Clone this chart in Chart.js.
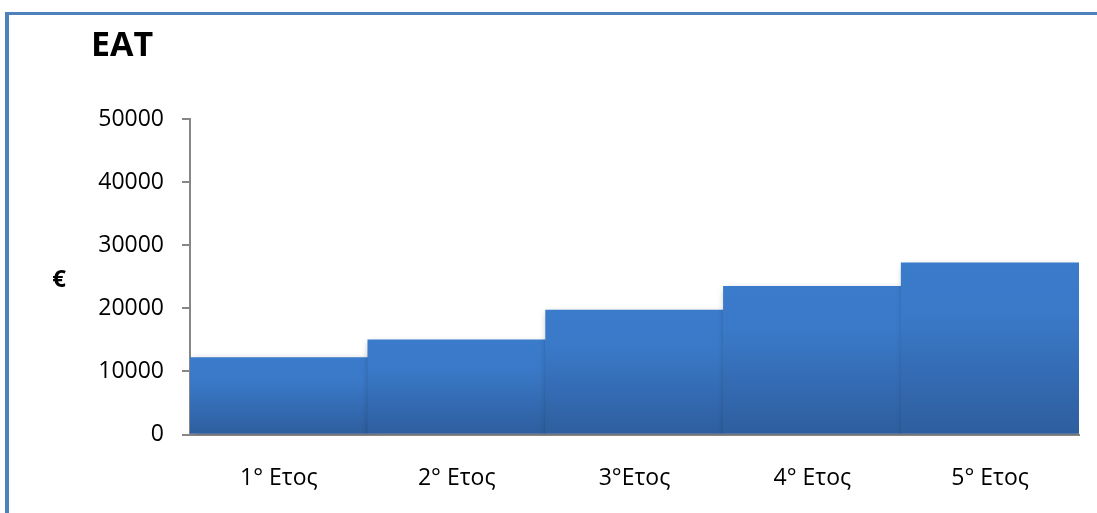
<!DOCTYPE html>
<html>
<head>
<meta charset="utf-8">
<script src="https://cdn.jsdelivr.net/npm/chart.js@4/dist/chart.umd.min.js"></script>
<style>
  html, body { margin: 0; padding: 0; background: #ffffff; overflow: hidden; }
  #marco {
    position: absolute; left: 5px; top: 12px; width: 1200px; height: 600px;
    border-top: 3px solid #4f81bd; border-left: 4px solid #4f81bd;
  }
  #contenedor { position: absolute; left: 0; top: 0; width: 1097px; height: 513px; }
</style>
</head>
<body>
<div id="marco"></div>
<div id="contenedor"><canvas id="plot1" width="1097" height="513"></canvas></div>
<script>
// Datos del gráfico
let etiquetas = ['1° Ετος', '2° Ετος', '3°Ετος', '4° Ετος', '5° Ετος'];
let valores = [12200, 15000, 19700, 23500, 27200];
let ticksY = [0, 10000, 20000, 30000, 40000, 50000];
let titulo = 'EAT';
let unidad = '€';

let fuente = "'Open Sans', 'DejaVu Sans', sans-serif";

// Degradado de cada barra, desde su tope hasta el cero
let colorBarra = (context) => {
  let chart = context.chart;
  if (!chart.chartArea || context.parsed == null) return '#3a78c6';
  let y = chart.scales.y;
  let tope = y.getPixelForValue(context.parsed.y);
  let base = y.getPixelForValue(0);
  let g = chart.ctx.createLinearGradient(0, tope, 0, base);
  g.addColorStop(0, '#3b7bcb');
  g.addColorStop(0.3, '#3a79c8');
  g.addColorStop(1, '#2e5e9e');
  return g;
};

// Sombra suave detrás de las barras
let sombra = {
  id: 'sombra',
  beforeDatasetsDraw: (chart) => {
    let ctx = chart.ctx;
    ctx.save();
    ctx.shadowColor = 'rgba(0, 0, 0, 0.35)';
    ctx.shadowBlur = 7;
    ctx.shadowOffsetX = 2;
    ctx.shadowOffsetY = 3;
  },
  afterDatasetsDraw: (chart) => {
    chart.ctx.restore();
  }
};

// Título y unidad del eje (sin rotar)
let textos = {
  id: 'textos',
  afterDraw: (chart) => {
    let ctx = chart.ctx;
    ctx.save();
    ctx.fillStyle = '#000000';
    ctx.textBaseline = 'middle';
    ctx.textAlign = 'left';
    ctx.font = 'bold 34px ' + fuente;
    ctx.fillText(titulo, 91, 46);
    ctx.textAlign = 'center';
    ctx.font = 'bold 24px ' + fuente;
    ctx.fillText(unidad, 59, 280);
    ctx.restore();
  }
};

let plotRef = document.getElementById('plot1');

let config = {
  type: 'bar',
  data: {
    labels: etiquetas,
    datasets: [
      {
        label: titulo,
        data: valores,
        backgroundColor: colorBarra,
        borderWidth: 0,
        categoryPercentage: 1.0,
        barPercentage: 1.0
      }
    ]
  },
  options: {
    responsive: false,
    animation: false,
    layout: { padding: { left: 0, right: 18, top: 119, bottom: 0 } },
    plugins: {
      legend: { display: false },
      tooltip: { enabled: false },
      title: { display: false }
    },
    scales: {
      x: {
        z: 1,
        grid: { display: false, drawTicks: false },
        border: { display: true, color: '#868686', width: 2 },
        ticks: {
          color: '#000000',
          padding: 30,
          maxRotation: 0,
          font: { family: fuente, size: 23 }
        },
        afterFit: (scale) => { scale.height = 78.5; }
      },
      y: {
        min: 0,
        max: 50000,
        afterBuildTicks: (scale) => { scale.ticks = ticksY.map(v => ({ value: v })); },
        grid: {
          drawOnChartArea: false,
          drawTicks: true,
          tickLength: 8,
          color: '#868686',
          lineWidth: 2
        },
        border: { display: true, color: '#868686', width: 2 },
        ticks: {
          color: '#000000',
          padding: 18,
          font: { family: fuente, size: 23 },
          callback: (valor) => String(valor)
        },
        afterFit: (scale) => { scale.width = 190; }
      }
    }
  },
  plugins: [sombra, textos]
};

let chart1 = new Chart(plotRef, config);
</script>
</body>
</html>
